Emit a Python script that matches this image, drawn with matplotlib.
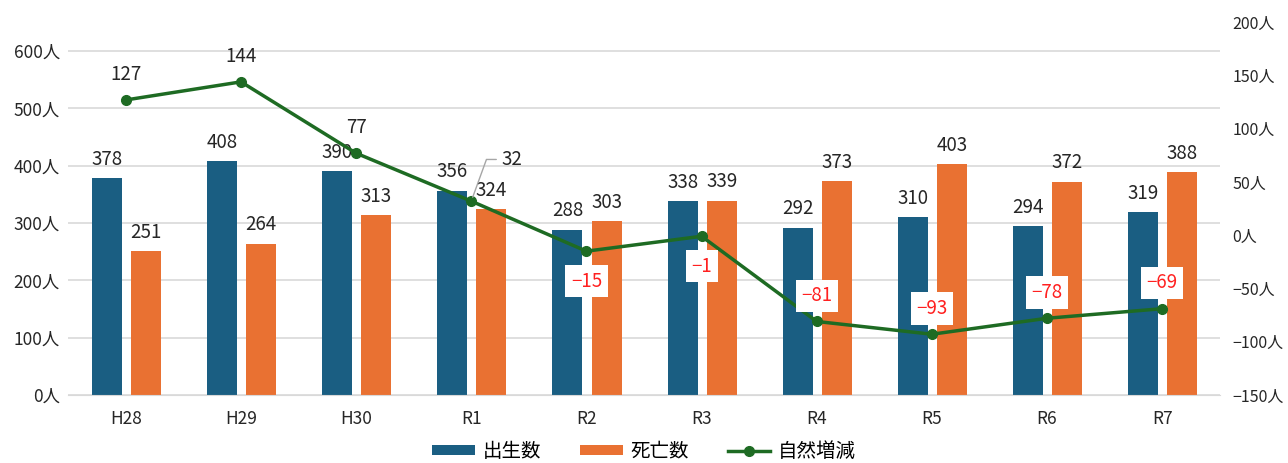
import matplotlib.pyplot as plt
import numpy as np
from matplotlib.ticker import FuncFormatter

plt.rcParams['font.family'] = ['Noto Sans CJK JP', 'DejaVu Sans']

years = ["H28", "H29", "H30", "R1", "R2", "R3", "R4", "R5", "R6", "R7"]
births = [378, 408, 390, 356, 288, 338, 292, 310, 294, 319]
deaths = [251, 264, 313, 324, 303, 339, 373, 403, 372, 388]
natural = [127, 144, 77, 32, -15, -1, -81, -93, -78, -69]

# where each line label goes relative to its point
label_side = ["up", "up", "up", "leader", "down", "down", "up", "up", "up", "up"]

c_birth = "#1a5e82"
c_death = "#e97132"
c_line = "#1e6b23"

fig = plt.figure(figsize=(12.88, 4.63), dpi=100)
ax = fig.add_axes([0.053, 0.147, 0.894, 0.805])
ax2 = ax.twinx()

x = np.arange(len(years))
w = 0.26
ax.bar(x - 0.165, births, w, color=c_birth, label="出生数", zorder=2)
ax.bar(x + 0.175, deaths, w, color=c_death, label="死亡数", zorder=2)

for xi, v in zip(x - 0.165, births):
    ax.annotate(str(v), (xi, v), xytext=(0, 6), textcoords="offset points",
                ha="center", va="bottom", fontsize=13.5, color="#262626")
for xi, v in zip(x + 0.175, deaths):
    ax.annotate(str(v), (xi, v), xytext=(0, 6), textcoords="offset points",
                ha="center", va="bottom", fontsize=13.5, color="#262626")

ax.set_ylim(0, 650)
ax.set_yticks(range(0, 601, 100))
ax.yaxis.set_major_formatter(FuncFormatter(lambda v, p: f"{int(v)}人"))
ax.set_xlim(-0.5, len(years) - 0.5)
ax.set_xticks(x)
ax.set_xticklabels(years)
ax.grid(axis="y", color="#d9d9d9", linewidth=1.2, zorder=0)
ax.set_axisbelow(True)

ax2.plot(x, natural, color=c_line, linewidth=2.5, marker="o", markersize=7,
         label="自然増減", zorder=5)
ax2.set_ylim(-150, 200)
ax2.set_yticks(range(-150, 201, 50))
ax2.yaxis.set_major_formatter(FuncFormatter(lambda v, p: f"{int(v)}人".replace("-", "−")))

for xi, v, side in zip(x, natural, label_side):
    txt = str(v).replace("-", "−")
    if v < 0:
        style = dict(color="#ff2020",
                     bbox=dict(boxstyle="square,pad=0.3", fc="white", ec="none"))
    else:
        style = dict(color="#262626")
    if side == "up":
        ax2.annotate(txt, (xi, v), xytext=(0, 11), textcoords="offset points",
                     ha="center", va="bottom", fontsize=13.5, zorder=6, **style)
    elif side == "down":
        ax2.annotate(txt, (xi, v), xytext=(0, -14), textcoords="offset points",
                     ha="center", va="top", fontsize=13.5, zorder=6, **style)
    else:
        ax2.annotate(txt, (xi, v), xytext=(22, 30), textcoords="offset points",
                     ha="left", va="center", fontsize=13.5, zorder=6,
                     arrowprops=dict(arrowstyle="-", color="#a6a6a6", lw=1,
                                     connectionstyle="angle,angleA=0,angleB=70,rad=0",
                                     shrinkA=2, shrinkB=3), **style)

for a in (ax, ax2):
    for s in a.spines.values():
        s.set_visible(False)
    a.tick_params(length=0, labelsize=12.5, colors="#262626")
ax.tick_params(axis="y", pad=6)
ax2.tick_params(axis="y", pad=9, labelsize=11.5)
ax.spines["bottom"].set_visible(True)
ax.spines["bottom"].set_color("#d9d9d9")
ax.tick_params(axis="x", pad=11)

h1, l1 = ax.get_legend_handles_labels()
h2, l2 = ax2.get_legend_handles_labels()
fig.legend(h1 + h2, l1 + l2, loc="lower center", ncol=3, frameon=False,
           bbox_to_anchor=(0.5, -0.035), fontsize=14, handlelength=2.2,
           handleheight=0.45, columnspacing=2.0, handletextpad=0.4)

fig.savefig("out.png", dpi=100)
